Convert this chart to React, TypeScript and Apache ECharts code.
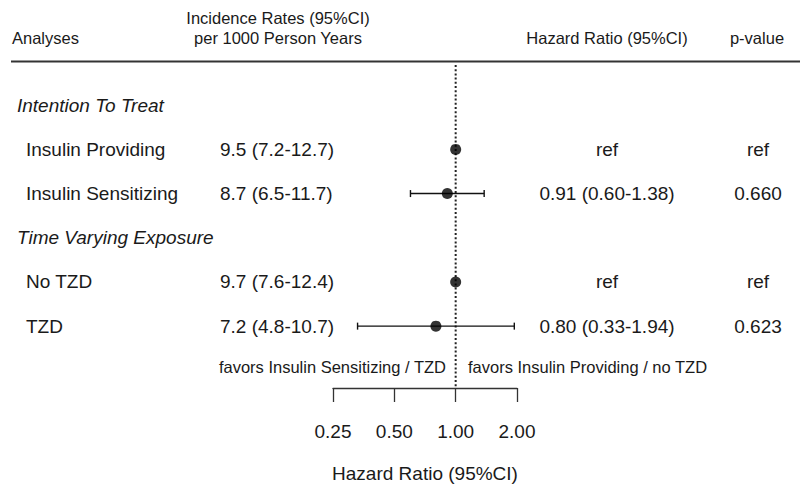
import React, { useEffect, useRef } from "react";
import * as echarts from "echarts";

const rowLabels = [
  "Intention To Treat",
  "Insulin Providing",
  "Insulin Sensitizing",
  "Time Varying Exposure",
  "No TZD",
  "TZD",
];
const rowIsGroup = [true, false, false, true, false, false];
const incidenceRates = ["", "9.5 (7.2-12.7)", "8.7 (6.5-11.7)", "", "9.7 (7.6-12.4)", "7.2 (4.8-10.7)"];
const hrTexts = ["", "ref", "0.91 (0.60-1.38)", "", "ref", "0.80 (0.33-1.94)"];
const pValues = ["", "ref", "0.660", "", "ref", "0.623"];
const hrPoint: (number | null)[] = [null, 1.0, 0.91, null, 1.0, 0.8];
const hrLow: (number | null)[] = [null, null, 0.6, null, null, 0.33];
const hrHigh: (number | null)[] = [null, null, 1.38, null, null, 1.94];
const axisMin = 0.25;
const axisMax = 2;
const refValue = 1;

const FONT = '"Liberation Sans", Arial, sans-serif';
const TXT = "#1a1a1a";

export default function App() {
  const ref = useRef<HTMLDivElement>(null);
  useEffect(() => {
    if (!ref.current) return;
    const chart = echarts.init(ref.current, undefined, { renderer: "svg" });

    const pointData = hrPoint
      .map((v, i) => (v == null ? null : [v, i]))
      .filter((d) => d !== null);
    const ciData = hrLow
      .map((v, i) => (v == null ? null : [v, hrHigh[i], i]))
      .filter((d) => d !== null);

    const option: any = {
      animation: false,
      backgroundColor: "#ffffff",
      textStyle: { fontFamily: FONT },
      grid: [
        { left: 0, right: 0, top: 61, bottom: 101 },
        { left: 333, width: 184, top: 61, bottom: 101 },
      ],
      xAxis: [
        { type: "value", gridIndex: 0, min: 0, max: 800, show: false },
        {
          type: "log",
          logBase: 2,
          gridIndex: 1,
          position: "bottom",
          min: axisMin,
          max: axisMax,
          axisLine: { show: true, onZero: false, lineStyle: { color: "#333", width: 1.3 } },
          axisTick: { show: true, length: 14, lineStyle: { color: "#333", width: 1.3 } },
          axisLabel: {
            fontSize: 19,
            color: TXT,
            fontFamily: FONT,
            margin: 34,
            formatter: (v: number) => v.toFixed(2),
          },
          splitLine: { show: false },
          minorTick: { show: false },
          name: "Hazard Ratio (95%CI)",
          nameLocation: "middle",
          nameGap: 76,
          nameTextStyle: { fontSize: 19, color: TXT, fontFamily: FONT },
        },
      ],
      yAxis: [
        { type: "value", gridIndex: 0, min: -1, max: 6.4, inverse: true, show: false },
        { type: "value", gridIndex: 1, min: -1, max: 6.4, inverse: true, show: false },
      ],
      series: [
        {
          type: "custom",
          xAxisIndex: 0,
          yAxisIndex: 0,
          data: rowLabels.map((_, i) => [0, i]),
          renderItem: (params: any, api: any) => {
            const i = params.dataIndex;
            const y = api.coord([0, i])[1];
            const children: any[] = [];
            const mk = (text: string, x: number, align: string, italic = false) => ({
              type: "text",
              x,
              y,
              style: {
                text,
                fill: TXT,
                fontSize: 19,
                fontFamily: FONT,
                fontStyle: italic ? "italic" : "normal",
                align,
                verticalAlign: "middle",
              },
            });
            if (rowIsGroup[i]) {
              children.push(mk(rowLabels[i], 17, "left", true));
            } else {
              children.push(mk(rowLabels[i], 26, "left"));
              children.push(mk(incidenceRates[i], 220, "left"));
              children.push(mk(hrTexts[i], 607, "center"));
              children.push(mk(pValues[i], 758, "center"));
            }
            return { type: "group", children };
          },
        },
        {
          type: "line",
          xAxisIndex: 1,
          yAxisIndex: 1,
          data: [
            [refValue, -0.91],
            [refValue, 6.4],
          ],
          symbol: "none",
          lineStyle: { color: "#222", width: 2, type: [2, 2.2] },
          z: 1,
        },
        {
          type: "custom",
          xAxisIndex: 1,
          yAxisIndex: 1,
          data: ciData,
          z: 2,
          renderItem: (params: any, api: any) => {
            const lo = api.coord([api.value(0), api.value(2)]);
            const hi = api.coord([api.value(1), api.value(2)]);
            const h = 3.5;
            const st = { stroke: "#111", lineWidth: 1.4 };
            return {
              type: "group",
              children: [
                { type: "line", shape: { x1: lo[0], y1: lo[1], x2: hi[0], y2: hi[1] }, style: st },
                { type: "line", shape: { x1: lo[0], y1: lo[1] - h, x2: lo[0], y2: lo[1] + h }, style: st },
                { type: "line", shape: { x1: hi[0], y1: hi[1] - h, x2: hi[0], y2: hi[1] + h }, style: st },
              ],
            };
          },
        },
        {
          type: "scatter",
          xAxisIndex: 1,
          yAxisIndex: 1,
          data: pointData,
          symbol: "circle",
          symbolSize: 11,
          itemStyle: { color: "#000" },
          z: 3,
        },
      ],
      graphic: [
        {
          type: "text",
          left: 12,
          top: 29,
          style: { text: "Analyses", fill: TXT, fontSize: 16.5, fontFamily: FONT },
        },
        {
          type: "text",
          x: 278,
          y: 18,
          style: {
            text: "Incidence Rates (95%CI)",
            fill: TXT,
            fontSize: 16.5,
            fontFamily: FONT,
            align: "center",
            verticalAlign: "middle",
          },
        },
        {
          type: "text",
          x: 278,
          y: 38,
          style: {
            text: "per 1000 Person Years",
            fill: TXT,
            fontSize: 16.5,
            fontFamily: FONT,
            align: "center",
            verticalAlign: "middle",
          },
        },
        {
          type: "text",
          x: 607,
          y: 38,
          style: {
            text: "Hazard Ratio (95%CI)",
            fill: TXT,
            fontSize: 16.5,
            fontFamily: FONT,
            align: "center",
            verticalAlign: "middle",
          },
        },
        {
          type: "text",
          x: 757,
          y: 38,
          style: {
            text: "p-value",
            fill: TXT,
            fontSize: 16.5,
            fontFamily: FONT,
            align: "center",
            verticalAlign: "middle",
          },
        },
        {
          type: "line",
          shape: { x1: 11, y1: 61.5, x2: 800, y2: 61.5 },
          style: { stroke: "#333", lineWidth: 2 },
        },
        {
          type: "text",
          x: 446,
          y: 367,
          style: {
            text: "favors Insulin Sensitizing / TZD",
            fill: TXT,
            fontSize: 16.5,
            fontFamily: FONT,
            align: "right",
            verticalAlign: "middle",
          },
        },
        {
          type: "text",
          x: 468,
          y: 367,
          style: {
            text: "favors Insulin Providing / no TZD",
            fill: TXT,
            fontSize: 16.5,
            fontFamily: FONT,
            align: "left",
            verticalAlign: "middle",
          },
        },
      ],
    };
    chart.setOption(option);
    return () => chart.dispose();
  }, []);

  return (
    <div
      ref={ref}
      style={{ position: "fixed", left: 0, top: 0, width: 800, height: 489, background: "#fff" }}
    />
  );
}
